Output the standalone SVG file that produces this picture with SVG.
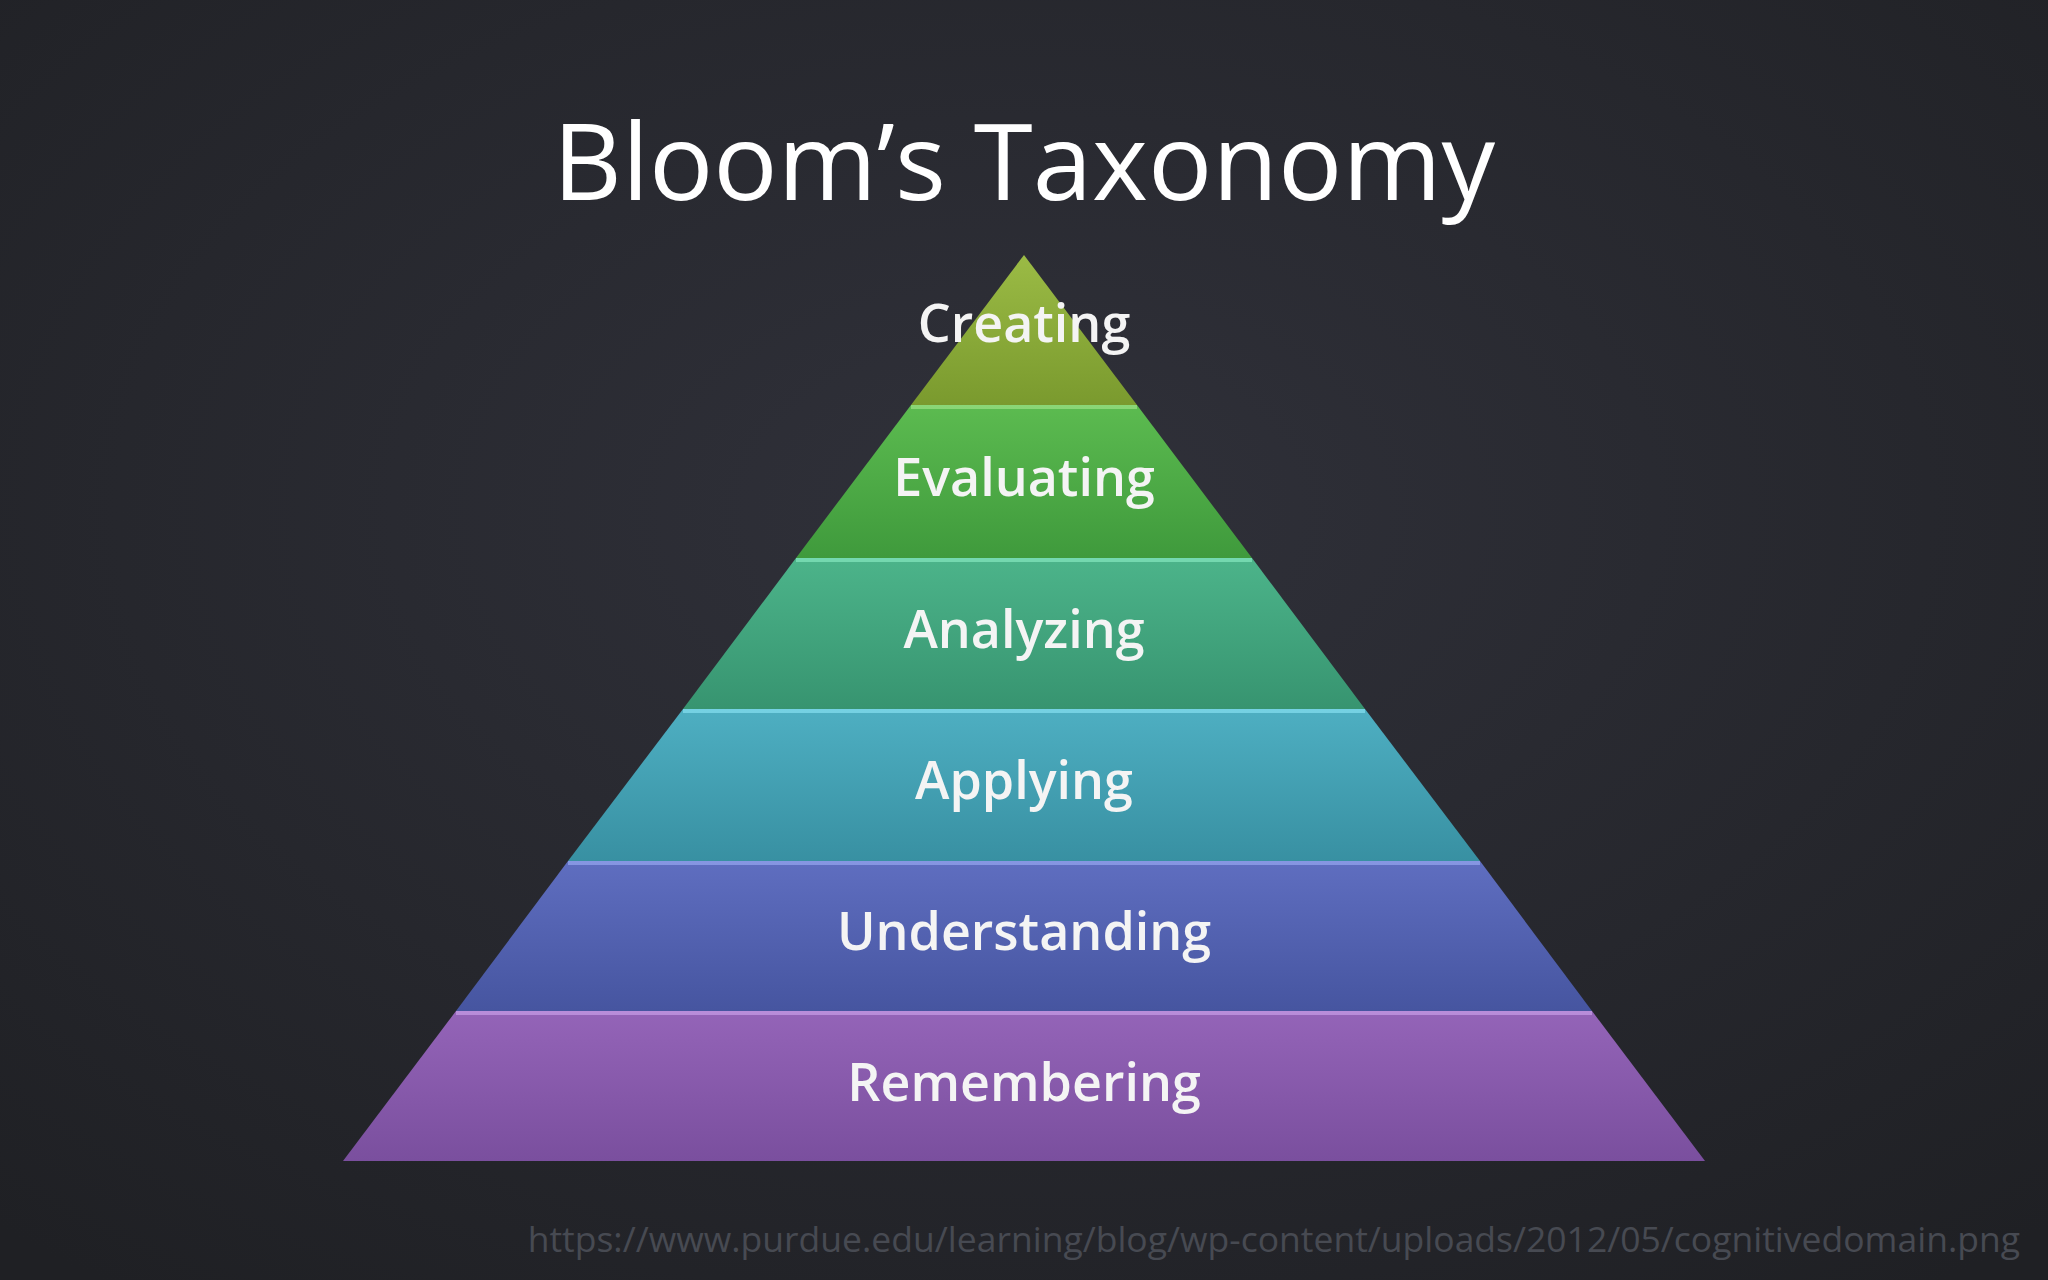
<svg xmlns="http://www.w3.org/2000/svg" width="2048" height="1280" viewBox="0 0 2048 1280">
<defs>
<radialGradient id="bg" cx="0.5" cy="0.4" r="0.75"><stop offset="0" stop-color="#30313a"/><stop offset="1" stop-color="#1f2024"/></radialGradient>
<linearGradient id="g1" x1="0" y1="0" x2="0" y2="1"><stop offset="0" stop-color="#9bbb45"/><stop offset="1" stop-color="#7a9a2e"/></linearGradient>
<linearGradient id="g2" x1="0" y1="0" x2="0" y2="1"><stop offset="0" stop-color="#5cbb50"/><stop offset="1" stop-color="#3f9a3c"/></linearGradient>
<linearGradient id="g3" x1="0" y1="0" x2="0" y2="1"><stop offset="0" stop-color="#4cb48a"/><stop offset="1" stop-color="#379470"/></linearGradient>
<linearGradient id="g4" x1="0" y1="0" x2="0" y2="1"><stop offset="0" stop-color="#4eafc2"/><stop offset="1" stop-color="#3890a2"/></linearGradient>
<linearGradient id="g5" x1="0" y1="0" x2="0" y2="1"><stop offset="0" stop-color="#5f6ec0"/><stop offset="1" stop-color="#4655a0"/></linearGradient>
<linearGradient id="g6" x1="0" y1="0" x2="0" y2="1"><stop offset="0" stop-color="#9464b8"/><stop offset="1" stop-color="#7a4f9e"/></linearGradient>
</defs>
<style>
.lbl{font-family:"Open Sans","Liberation Sans",sans-serif;font-size:52px;font-weight:600;fill:#f4f4f4;text-anchor:middle}
.edge{fill:none;stroke-width:4;stroke-opacity:0.6}
</style>
<rect width="2048" height="1280" fill="url(#bg)"/>
<text x="1024" y="200" font-family="'Open Sans','Liberation Sans',sans-serif" font-size="107" fill="#ffffff" text-anchor="middle">Bloom’s Taxonomy</text>
<g id="creating"><polygon points="1024,255 1137,405 911,405" fill="url(#g1)"/><text class="lbl" x="1024" y="342">Creating</text></g>
<g id="evaluating"><polygon points="911,405 1137,405 1252,558 796,558" fill="url(#g2)"/><line class="edge" stroke="#a8e890" x1="911" y1="407" x2="1137" y2="407"/><text class="lbl" x="1024" y="496">Evaluating</text></g>
<g id="analyzing"><polygon points="796,558 1252,558 1365,709 683,709" fill="url(#g3)"/><line class="edge" stroke="#90f0c8" x1="796" y1="560" x2="1252" y2="560"/><text class="lbl" x="1024" y="648">Analyzing</text></g>
<g id="applying"><polygon points="683,709 1365,709 1480,861 568,861" fill="url(#g4)"/><line class="edge" stroke="#90e8f8" x1="683" y1="711" x2="1365" y2="711"/><text class="lbl" x="1024" y="799">Applying</text></g>
<g id="understanding"><polygon points="568,861 1480,861 1592,1011 456,1011" fill="url(#g5)"/><line class="edge" stroke="#a0b0f8" x1="568" y1="863" x2="1480" y2="863"/><text class="lbl" x="1024" y="950">Understanding</text></g>
<g id="remembering"><polygon points="456,1011 1592,1011 1705,1161 343,1161" fill="url(#g6)"/><line class="edge" stroke="#d0a8f0" x1="456" y1="1013" x2="1592" y2="1013"/><text class="lbl" x="1024" y="1101">Remembering</text></g>
<g id="connectors"/>
<text x="2020" y="1252" font-family="'Open Sans','Liberation Sans',sans-serif" font-size="35.5" fill="#474a52" text-anchor="end">https://www.purdue.edu/learning/blog/wp-content/uploads/2012/05/cognitivedomain.png</text>
</svg>
